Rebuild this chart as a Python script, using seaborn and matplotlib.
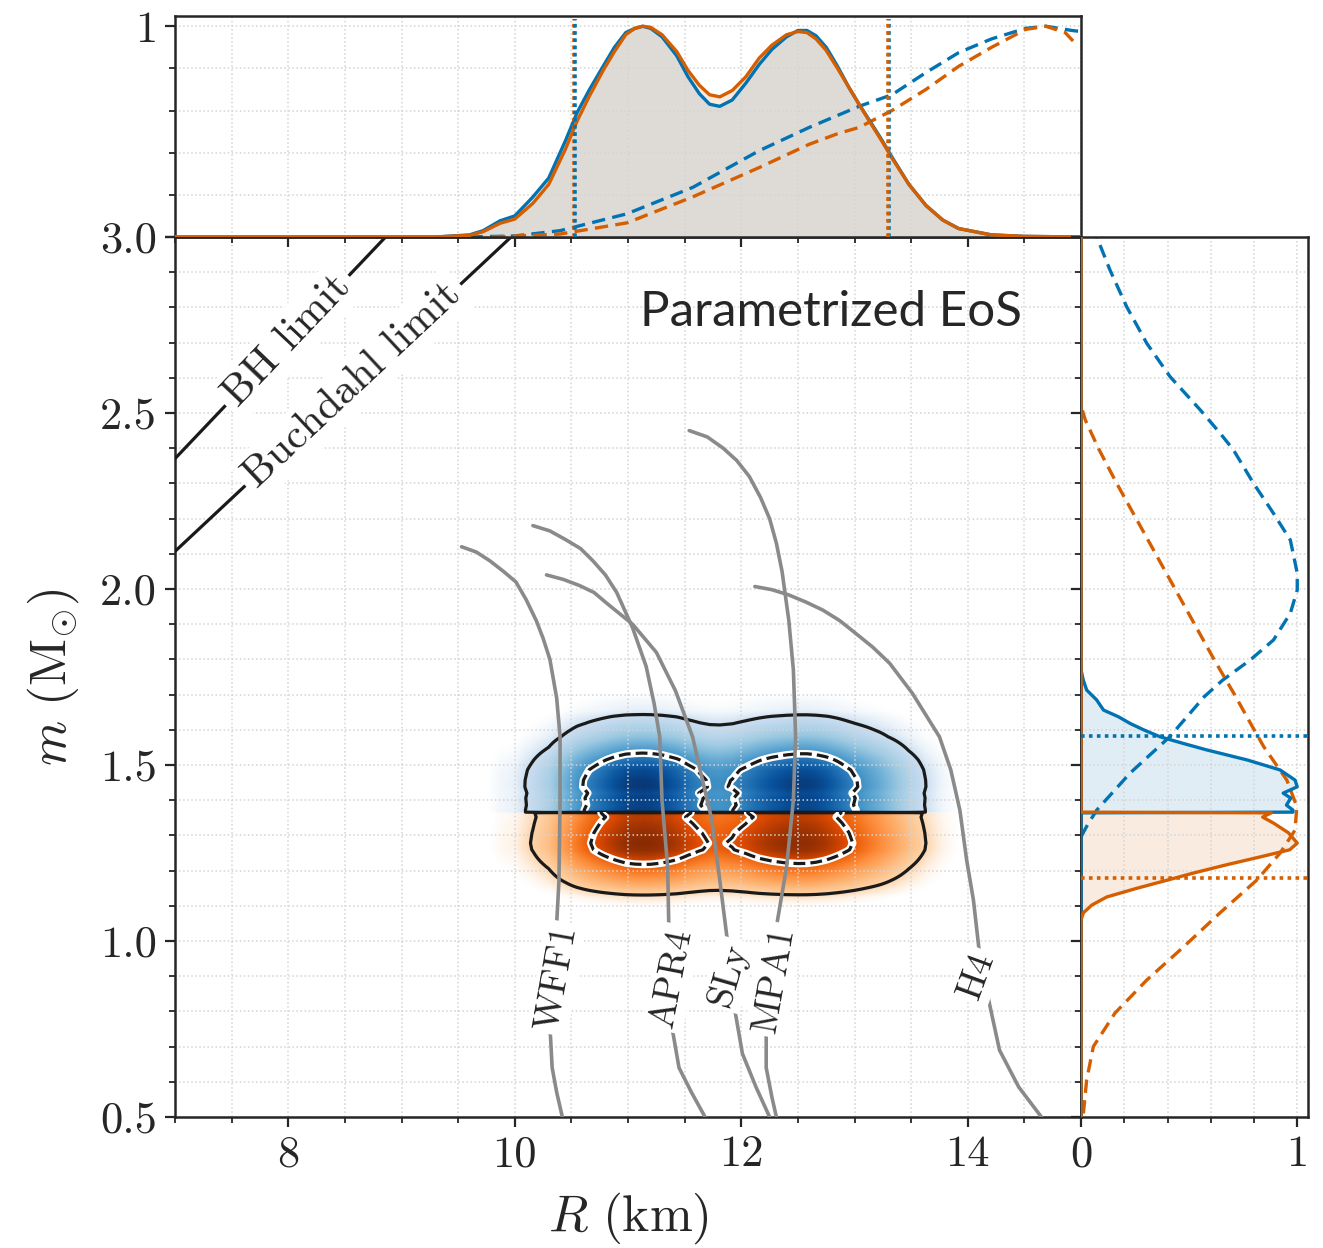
import numpy as np
import pandas as pd
import matplotlib
matplotlib.use("Agg")
import matplotlib.pyplot as plt
import seaborn as sns
from matplotlib.ticker import MultipleLocator, FixedLocator, FixedFormatter, FormatStrFormatter
from matplotlib.patches import Rectangle

# ---------------- data ----------------
# top marginal: radius posterior (normalised), solid
R_top = [7.0, 9.3, 9.6, 9.72, 9.87, 10.0, 10.16, 10.3, 10.45, 10.55, 10.66, 10.78, 10.88, 10.98,
         11.06, 11.13, 11.2, 11.3, 11.43, 11.53, 11.63, 11.72, 11.81, 11.92, 12.04, 12.16,
         12.27, 12.4, 12.5, 12.58, 12.66, 12.75, 12.85, 12.95, 13.04, 13.13, 13.23,
         13.33, 13.48, 13.63, 13.78, 13.92, 14.21, 14.5, 15.0]
top_blue = [0, 0, 0.01, 0.03, 0.077, 0.10, 0.19, 0.28, 0.46, 0.59, 0.70, 0.81, 0.90, 0.97,
            0.99, 1.0, 0.99, 0.95, 0.86, 0.76, 0.68, 0.63, 0.62, 0.65, 0.73, 0.82,
            0.89, 0.95, 0.98, 0.98, 0.955, 0.90, 0.81, 0.71, 0.63, 0.555, 0.47,
            0.38, 0.25, 0.15, 0.08, 0.04, 0.01, 0.003, 0]
top_orange = [0, 0, 0.008, 0.025, 0.065, 0.085, 0.16, 0.25, 0.42, 0.55, 0.67, 0.79, 0.88, 0.96,
              0.99, 1.0, 0.995, 0.96, 0.88, 0.79, 0.72, 0.675, 0.665, 0.695, 0.76, 0.85,
              0.91, 0.96, 0.975, 0.97, 0.94, 0.885, 0.80, 0.71, 0.63, 0.55, 0.465,
              0.375, 0.25, 0.15, 0.08, 0.04, 0.01, 0.003, 0]
# top marginal: prior (dashed)
R_top_d_blue = [9.6, 10.0, 10.4, 10.99, 11.57, 12.16, 12.6, 13.04, 13.33, 13.63, 13.92,
                14.21, 14.51, 14.69, 14.92, 15.0]
top_blue_d = [0, 0.005, 0.03, 0.11, 0.235, 0.41, 0.52, 0.62, 0.675, 0.78, 0.875,
              0.94, 0.99, 1.0, 0.98, 0.975]
R_top_d_orange = [9.8, 10.4, 10.99, 11.57, 12.16, 12.6, 12.85, 13.04, 13.33, 13.63, 13.92,
                  14.21, 14.51, 14.69, 14.86, 14.93]
top_orange_d = [0, 0.014, 0.067, 0.19, 0.33, 0.44, 0.49, 0.52, 0.60, 0.70, 0.81,
                0.90, 0.985, 1.0, 0.97, 0.93]
R_interval_blue = [10.535, 13.305]
R_interval_orange = [10.525, 13.295]

# right marginal: mass posteriors (normalised), solid
m_r_blue = [0.5, 1.364, 1.366, 1.372, 1.386, 1.406, 1.42, 1.438, 1.457, 1.486, 1.514, 1.543,
            1.561, 1.58, 1.60, 1.618, 1.637, 1.656, 1.685, 1.713, 1.742, 1.77, 3.0]
right_blue = [0, 0, 0.98, 0.98, 0.95, 0.97, 0.935, 1.0, 0.99, 0.92, 0.77, 0.58,
              0.474, 0.366, 0.289, 0.227, 0.173, 0.104, 0.072, 0.026, 0.01, 0, 0]
m_r_orange = [0.5, 1.06, 1.08, 1.102, 1.125, 1.15, 1.173, 1.193, 1.216, 1.239, 1.259, 1.278,
              1.307, 1.335, 1.352, 1.364, 1.366, 3.0]
right_orange = [0, 0, 0.011, 0.05, 0.119, 0.26, 0.40, 0.52, 0.67, 0.83, 0.965, 1.0,
                0.96, 0.89, 0.84, 0.88, 0, 0]
# right marginal: priors (dashed)
m_r_blue_d = [1.296, 1.33, 1.372, 1.477, 1.58, 1.637, 1.694, 1.741, 1.798, 1.855, 1.931,
              1.997, 2.045, 2.139, 2.215, 2.30, 2.395, 2.442, 2.509, 2.603, 2.698, 2.802,
              2.906, 3.0]
right_blue_d = [0, 0.03, 0.073, 0.227, 0.41, 0.49, 0.57, 0.655, 0.782, 0.89, 0.968,
                1.0, 1.0, 0.968, 0.89, 0.798, 0.705, 0.644, 0.551, 0.412, 0.304, 0.211,
                0.134, 0.073]
m_r_orange_d = [0.51, 0.605, 0.70, 0.795, 0.889, 0.983, 1.08, 1.173, 1.25, 1.315, 1.382,
                1.457, 1.552, 1.628, 1.70, 1.742, 1.80, 1.90, 2.00, 2.10, 2.20, 2.30,
                2.40, 2.48, 2.52]
right_orange_d = [0.011, 0.026, 0.057, 0.157, 0.304, 0.474, 0.643, 0.813, 0.921, 0.99,
                  0.998, 0.952, 0.845, 0.775, 0.71, 0.67, 0.615, 0.525, 0.435, 0.345, 0.255,
                  0.165, 0.08, 0.02, 0.0]
m1_upper = 1.582
m2_lower = 1.179
m_split = 1.365

# EoS mass-radius curves
eos_names = ["WFF1", "APR4", "SLy", "MPA1", "H4"]
eos_R = {
    "WFF1": [9.53, 9.66, 9.78, 9.90, 10.01, 10.10, 10.19, 10.25, 10.31, 10.37, 10.40, 10.40, 10.39, 10.37, 10.31, 10.33, 10.37, 10.42],
    "APR4": [10.16, 10.31, 10.45, 10.58, 10.69, 10.80, 10.90, 11.04, 11.16, 11.23, 11.28, 11.30, 11.35, 11.36, 11.38, 11.45, 11.56, 11.68],
    "SLy": [10.28, 10.43, 10.57, 10.70, 10.81, 11.04, 11.25, 11.42, 11.57, 11.63, 11.74, 11.81, 11.88, 11.94, 12.01, 12.13, 12.25],
    "MPA1": [11.54, 11.70, 11.84, 11.96, 12.07, 12.17, 12.25, 12.31, 12.36, 12.42, 12.46, 12.48, 12.46, 12.40, 12.31, 12.22, 12.22, 12.27, 12.31],
    "H4": [12.12, 12.27, 12.42, 12.57, 12.72, 12.87, 13.01, 13.16, 13.31, 13.51, 13.75, 13.85, 13.93, 13.99, 14.05, 14.10, 14.19, 14.28, 14.45, 14.65],
}
eos_m = {
    "WFF1": [2.12, 2.105, 2.08, 2.05, 2.02, 1.97, 1.91, 1.86, 1.80, 1.69, 1.58, 1.40, 1.17, 1.05, 0.76, 0.64, 0.57, 0.50],
    "APR4": [2.18, 2.165, 2.14, 2.115, 2.08, 2.04, 1.99, 1.89, 1.78, 1.675, 1.58, 1.40, 1.21, 1.04, 0.77, 0.64, 0.57, 0.50],
    "SLy": [2.04, 2.027, 2.01, 1.99, 1.96, 1.90, 1.82, 1.71, 1.58, 1.495, 1.344, 1.173, 0.994, 0.81, 0.68, 0.585, 0.50],
    "MPA1": [2.45, 2.432, 2.40, 2.365, 2.32, 2.26, 2.20, 2.13, 2.05, 1.91, 1.77, 1.58, 1.40, 1.21, 1.04, 0.77, 0.64, 0.557, 0.50],
    "H4": [2.007, 1.998, 1.983, 1.963, 1.94, 1.91, 1.874, 1.835, 1.789, 1.704, 1.58, 1.486, 1.372, 1.23, 1.116, 0.974, 0.824, 0.69, 0.585, 0.50],
}
eos_label_R = [10.37, 11.39, 11.89, 12.29, 14.08]
eos_label_m = [0.895, 0.895, 0.905, 0.89, 0.90]
eos_label_rot = [80, 79, 74, 80, 70]

# compactness limits: m = coef * R
limit_names = ["BH limit", "Buchdahl limit"]
limit_coef = [1 / 2.953, 1 / 3.3224]
limit_label_R = [7.99, 8.57]
limit_R = np.array([7.0, 15.0])

BLUE = "#0173b2"
ORANGE = "#d55e00"
GREY = "#8a8a8a"

# ---------------- style ----------------
sns.set_theme(style="ticks")
plt.rcParams.update({
    "font.family": ["serif"],
    "font.serif": ["cmr10", "DejaVu Serif"],
    "mathtext.fontset": "cm",
    "axes.unicode_minus": False,
    "axes.formatter.use_mathtext": True,
    "axes.edgecolor": "#262626",
    "axes.linewidth": 1.8,
    "xtick.color": "#262626", "ytick.color": "#262626",
    "xtick.direction": "out", "ytick.direction": "out",
    "xtick.major.size": 7, "ytick.major.size": 7,
    "xtick.minor.size": 4, "ytick.minor.size": 4,
    "xtick.major.width": 1.6, "ytick.major.width": 1.6,
    "xtick.minor.width": 1.3, "ytick.minor.width": 1.3,
    "xtick.major.pad": 6, "ytick.major.pad": 6,
    "xtick.labelsize": 32, "ytick.labelsize": 32,
})

fig = plt.figure(figsize=(13.23, 12.48), dpi=100)
ax = fig.add_axes([0.1323, 0.1050, 0.6848, 0.7051])
axt = fig.add_axes([0.1323, 0.8101, 0.6848, 0.1773], sharex=ax)
axr = fig.add_axes([0.8171, 0.1050, 0.1716, 0.7051], sharey=ax)

grid_kw = dict(which="both", color="#d4d4d4", linestyle=":", linewidth=1.1)
for a in (ax, axt, axr):
    a.grid(True, **grid_kw)
    a.set_axisbelow("line")
    for s in a.spines.values():
        s.set_visible(True)
        s.set_linewidth(1.8)

# ---------------- main panel: 2D densities ----------------
Rg = np.linspace(9.5, 14.5, 700)
mg = np.linspace(0.95, 1.85, 901)


def density_rgba(D, cmap_name):
    cmap = plt.get_cmap(cmap_name)
    c = cmap(0.1 + 0.87 * np.clip(D, 0, 1))
    c[..., 3] = np.clip((D - 0.04) / 0.11, 0, 1)
    return c


m_split_idx_b = m_r_blue.index(1.366)
m_split_idx_o = m_r_orange.index(1.364)
panels = [
    (top_blue, m_r_blue, right_blue,
     (m_r_blue[m_split_idx_b:-1], right_blue[m_split_idx_b:-1]), "Blues",
     (7.0, m_split, 8.0, 3.0 - m_split), 0.64),
    (top_orange, m_r_orange, right_orange,
     (m_r_orange[1:m_split_idx_o + 1], right_orange[1:m_split_idx_o + 1]), "Oranges",
     (7.0, 0.5, 8.0, m_split - 0.5), 0.68),
]
for (fR_vals, m_vals, v_vals, core, cmap_name, clip_rect, inner_level) in panels:
    fR = np.interp(Rg, R_top, fR_vals)
    gm = np.interp(mg, m_vals, v_vals)
    D = gm[:, None] * fR[None, :]
    gm_ext = np.interp(mg, core[0], core[1])
    D_ext = gm_ext[:, None] * fR[None, :]
    ax.imshow(density_rgba(D, cmap_name), extent=(Rg[0], Rg[-1], mg[0], mg[-1]),
              origin="lower", aspect="auto", interpolation="bilinear", zorder=1)
    ax.contour(Rg, mg, D, levels=[0.15], colors="k", linewidths=2.3, zorder=3)
    cw = ax.contour(Rg, mg, D_ext, levels=[inner_level], colors="white", linewidths=5.5, zorder=3)
    ck = ax.contour(Rg, mg, D_ext, levels=[inner_level], colors="k", linewidths=2.3,
                    linestyles="--", zorder=3.1)
    cw.set_clip_path(Rectangle(clip_rect[:2], clip_rect[2], clip_rect[3], transform=ax.transData))
    ck.set_clip_path(Rectangle(clip_rect[:2], clip_rect[2], clip_rect[3], transform=ax.transData))

# EoS curves
for name, lr, lm, rot in zip(eos_names, eos_label_R, eos_label_m, eos_label_rot):
    sns.lineplot(x=eos_R[name], y=eos_m[name], ax=ax, sort=False, estimator=None,
                 color=GREY, lw=2.6, zorder=4)
    ax.text(lr, lm, name, rotation=rot, ha="center", va="center", fontsize=27,
            zorder=5, bbox=dict(boxstyle="square,pad=0.1", fc="white", ec="none"))

# compactness limits
for name, coef, lr in zip(limit_names, limit_coef, limit_label_R):
    sns.lineplot(x=limit_R, y=limit_R * coef, ax=ax, sort=False, estimator=None,
                 color="k", lw=2.3, zorder=3)
    ax.text(lr, lr * coef, name, rotation=np.degrees(np.arctan(coef)),
            transform_rotates_text=True, rotation_mode="anchor",
            ha="center", va="center", fontsize=31, zorder=5,
            bbox=dict(boxstyle="square,pad=0.15", fc="white", ec="none"))

ax.text(12.79, 2.787, "Parametrized EoS", fontsize=35.5, family=["Lato", "DejaVu Sans"],
        ha="center", va="center", zorder=5)

ax.set_xlim(7, 15)
ax.set_ylim(0.5, 3.0)
ax.xaxis.set_major_locator(FixedLocator([8, 10, 12, 14]))
ax.xaxis.set_minor_locator(MultipleLocator(0.5))
ax.yaxis.set_major_locator(MultipleLocator(0.5))
ax.yaxis.set_minor_locator(MultipleLocator(0.1))
ax.yaxis.set_major_formatter(FormatStrFormatter("%.1f"))
ax.xaxis.set_major_formatter(FormatStrFormatter("%d"))
ax.set_xlabel(r"$R\ (\mathrm{km})$", fontsize=37, labelpad=11)
ax.set_ylabel(r"$m\ (\mathrm{M}_{\odot})$", fontsize=37, labelpad=14)

# ---------------- top marginal ----------------
for Rv, yv, col in [(R_top, top_blue, BLUE), (R_top, top_orange, ORANGE)]:
    axt.fill_between(Rv, yv, 0, color=col, alpha=0.12, lw=0, zorder=1)
for Rv, yv, col in [(R_top_d_blue, top_blue_d, BLUE), (R_top_d_orange, top_orange_d, ORANGE)]:
    sns.lineplot(x=Rv, y=yv, ax=axt, sort=False, estimator=None, color=col, lw=2.4,
                 linestyle=(0, (4, 2.2)), zorder=2)
for Rv, yv, col in [(R_top, top_blue, BLUE), (R_top, top_orange, ORANGE)]:
    sns.lineplot(x=Rv, y=yv, ax=axt, sort=False, estimator=None, color=col, lw=2.4, zorder=3)
dot_style = (0, (1, 1.0))
axt.axvline(R_interval_orange[0], ymax=0.985, color=ORANGE, lw=2.6, linestyle=dot_style, zorder=4)
axt.axvline(R_interval_blue[0], ymax=0.985, color=BLUE, lw=2.6, linestyle=dot_style, zorder=4.1)
axt.axvline(R_interval_blue[1], ymax=0.985, color=BLUE, lw=2.6, linestyle=dot_style, zorder=4)
axt.axvline(R_interval_orange[1], ymax=0.985, color=ORANGE, lw=2.6, linestyle=dot_style, zorder=4.1)
axt.set_ylim(0, 1.05)
axt.yaxis.set_major_locator(FixedLocator([0, 1]))
axt.yaxis.set_major_formatter(FixedFormatter(["", "1"]))
axt.yaxis.set_minor_locator(MultipleLocator(0.2))
axt.tick_params(axis="x", which="both", labelbottom=False, bottom=True)
axt.set_xlabel("")
axt.set_ylabel("")

# ---------------- right marginal ----------------
for mv, xv, col in [(m_r_blue, right_blue, BLUE), (m_r_orange, right_orange, ORANGE)]:
    axr.fill_betweenx(mv, xv, 0, color=col, alpha=0.12, lw=0, zorder=1)
for mv, xv, col in [(m_r_blue_d, right_blue_d, BLUE), (m_r_orange_d, right_orange_d, ORANGE)]:
    sns.lineplot(x=xv, y=mv, ax=axr, sort=False, estimator=None, orient="y", color=col,
                 lw=2.4, linestyle=(0, (4, 2.2)), zorder=2)
for mv, xv, col in [(m_r_blue, right_blue, BLUE), (m_r_orange, right_orange, ORANGE)]:
    sns.lineplot(x=xv, y=mv, ax=axr, sort=False, estimator=None, orient="y", color=col,
                 lw=2.4, zorder=3)
axr.axhline(m1_upper, color=BLUE, lw=2.6, linestyle=(0, (1, 1.2)), zorder=4)
axr.axhline(m2_lower, color=ORANGE, lw=2.6, linestyle=(0, (1, 1.2)), zorder=4)
axr.set_xlim(0, 1.05)
axr.xaxis.set_major_locator(FixedLocator([0, 1]))
axr.xaxis.set_major_formatter(FixedFormatter(["0", "1"]))
axr.xaxis.set_minor_locator(MultipleLocator(0.2))
axr.tick_params(axis="y", which="both", labelleft=False, left=True)
axr.set_xlabel("")
axr.set_ylabel("")

ax.set_xlim(7, 15)
ax.set_ylim(0.5, 3.0)

fig.savefig("out.png", dpi=100)
